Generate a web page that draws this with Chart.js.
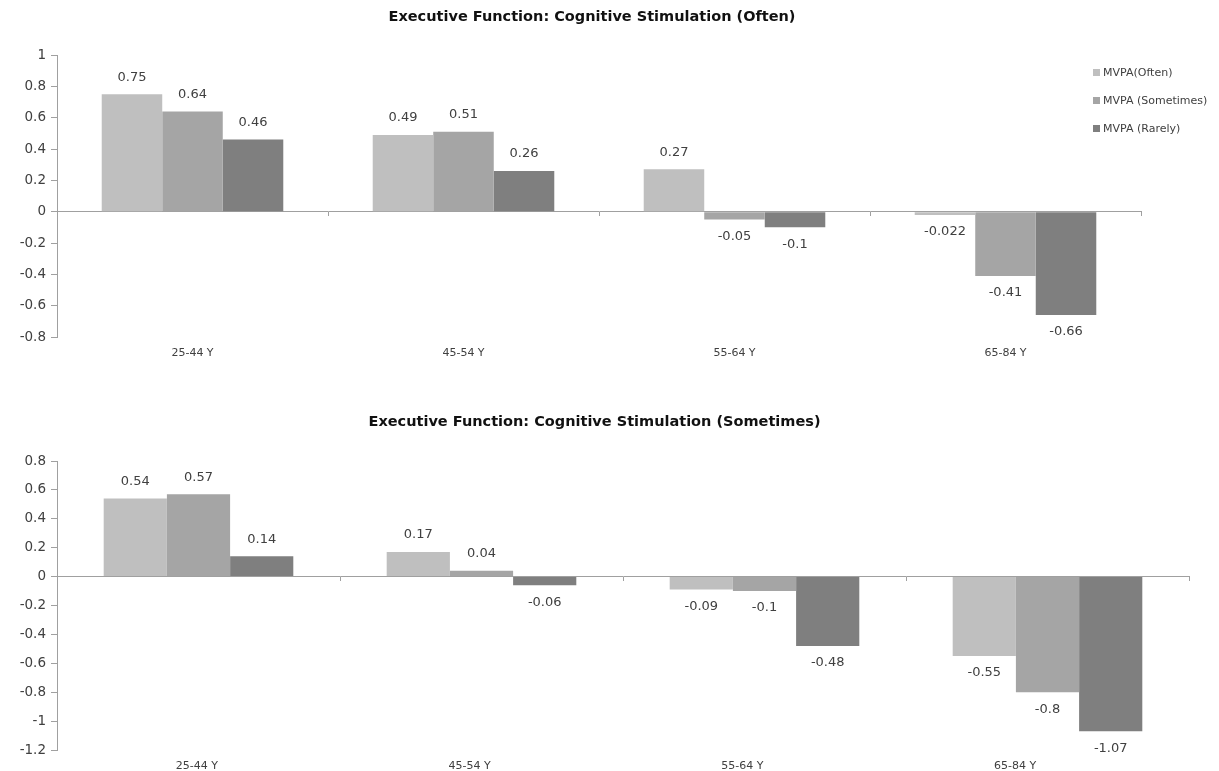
<!DOCTYPE html>
<html>
<head>
<meta charset="utf-8">
<title>Executive Function: Cognitive Stimulation</title>
<script src="https://cdn.jsdelivr.net/npm/chart.js@4/dist/chart.umd.min.js"></script>
<style>
  html, body { margin: 0; padding: 0; background: #fff; }
  body { width: 1219px; height: 771px; position: relative; overflow: hidden; }
  .panel { position: absolute; left: 0; width: 1219px; }
  #legend { position: absolute; left: 1093px; top: 58px; font: 11px "DejaVu Sans", sans-serif; color: #404040; }
  #legend .item { height: 28px; display: flex; align-items: center; white-space: nowrap; }
  #legend .box { display: inline-block; width: 7px; height: 7px; margin-right: 3px; }
</style>
</head>
<body>
<div class="panel" style="top:0;height:385px"><canvas id="often" width="1219" height="385"></canvas></div>
<div class="panel" style="top:390px;height:381px"><canvas id="sometimes" width="1219" height="381"></canvas></div>
<div id="legend"></div>

<script>
// Age groups (categories) and series
const ageGroups = ['25-44 Y', '45-54 Y', '55-64 Y', '65-84 Y'];
const seriesNames = ['MVPA(Often)', 'MVPA (Sometimes)', 'MVPA (Rarely)'];
const seriesColors = ['#BFBFBF', '#A5A5A5', '#7F7F7F'];

// Cognitive stimulation: Often
const oftenMvpaOften = [0.75, 0.49, 0.27, -0.022];
const oftenMvpaSometimes = [0.64, 0.51, -0.05, -0.41];
const oftenMvpaRarely = [0.46, 0.26, -0.1, -0.66];

// Cognitive stimulation: Sometimes
const sometimesMvpaOften = [0.54, 0.17, -0.09, -0.55];
const sometimesMvpaSometimes = [0.57, 0.04, -0.1, -0.8];
const sometimesMvpaRarely = [0.14, -0.06, -0.48, -1.07];

// Value axis ranges
const oftenAxis = { min: -0.8, max: 1, step: 0.2 };
const sometimesAxis = { min: -1.2, max: 0.8, step: 0.2 };

const AXIS_GRAY = '#A0A0A0';
const TEXT = '#404040';

Chart.defaults.font.family = '"DejaVu Sans", sans-serif';
Chart.defaults.color = TEXT;

// Writes each bar's value just beyond its end
const valueLabels = {
  id: 'valueLabels',
  afterDatasetsDraw(chart) {
    const ctx = chart.ctx;
    ctx.save();
    ctx.font = '13px "DejaVu Sans", sans-serif';
    ctx.fillStyle = TEXT;
    ctx.textAlign = 'center';
    ctx.textBaseline = 'middle';
    chart.data.datasets.forEach((ds, di) => {
      chart.getDatasetMeta(di).data.forEach((bar, i) => {
        const v = ds.data[i];
        ctx.fillText(String(v), bar.x, v >= 0 ? bar.y - 17 : bar.y + 17);
      });
    });
    ctx.restore();
  }
};

// Lets the title be centred over a span that starts at a given x
const titleSpan = {
  id: 'titleSpan',
  afterLayout(chart, args, opts) {
    if (chart.titleBlock && opts.left != null) chart.titleBlock.left = opts.left;
  }
};

function makeChart(id, o) {
  const datasets = o.values.map((vals, i) => ({
    label: seriesNames[i],
    data: vals,
    backgroundColor: seriesColors[i],
    borderWidth: 0,
    categoryPercentage: 0.67,
    barPercentage: 1.0
  }));

  const tickFont = { size: 11 };

  const scales = {
    x: {
      type: 'category',
      position: 'bottom',
      offset: true,
      display: !o.labelAxis,
      grid: { display: false },
      border: { display: false },
      ticks: { font: tickFont, color: TEXT, padding: 2, maxRotation: 0, autoSkip: false },
      afterFit: s => { s.height = o.labelAxis ? 0 : o.xHeight; }
    },
    // category axis crossing at zero: the baseline with tick marks between groups
    xZero: {
      type: 'category',
      axis: 'x',
      position: { y: 0 },
      offset: true,
      grid: { offset: true, drawOnChartArea: false, drawTicks: true, tickLength: 4, color: AXIS_GRAY, tickColor: AXIS_GRAY },
      border: { display: true, color: AXIS_GRAY, width: 1 },
      ticks: { display: false }
    },
    y: {
      min: o.axis.min,
      max: o.axis.max,
      grid: { drawOnChartArea: false, drawTicks: true, tickLength: 6, color: AXIS_GRAY, tickColor: AXIS_GRAY },
      border: { display: true, color: AXIS_GRAY, width: 1 },
      ticks: {
        stepSize: o.axis.step,
        autoSkip: false,
        padding: 5,
        font: { size: 13.5 },
        color: TEXT,
        callback: v => String(+Number(v).toFixed(1))
      },
      afterFit: s => { s.width = 57; }
    }
  };

  if (o.labelAxis) {
    // separate label axis for the group names
    scales.xLabels = {
      type: 'linear',
      axis: 'x',
      position: 'bottom',
      offset: false,
      bounds: 'data',
      min: o.labelAxis.min,
      max: o.labelAxis.max,
      grid: { display: false, offset: false },
      border: { display: false },
      afterBuildTicks: s => { s.ticks = ageGroups.map((_, i) => ({ value: i })); },
      ticks: { font: tickFont, color: TEXT, padding: 2, maxRotation: 0, autoSkip: false,
               callback: v => ageGroups[v] },
      afterFit: s => { s.height = o.xHeight; }
    };
  }

  return new Chart(document.getElementById(id), {
    type: 'bar',
    data: { labels: ageGroups, datasets },
    options: {
      responsive: false,
      animation: false,
      devicePixelRatio: 1,
      layout: { padding: o.padding },
      plugins: {
        legend: { display: false },
        tooltip: { enabled: false },
        titleSpan: { left: o.titleLeft },
        title: {
          display: true,
          text: o.title,
          color: '#111',
          font: { family: '"DejaVu Sans", sans-serif', size: 14.5, weight: 'bold' },
          padding: o.titlePadding
        }
      },
      scales
    },
    plugins: [valueLabels, titleSpan]
  });
}

const oftenChart = makeChart('often', {
  title: 'Executive Function: Cognitive Stimulation (Often)',
  values: [oftenMvpaOften, oftenMvpaSometimes, oftenMvpaRarely],
  axis: oftenAxis,
  padding: { left: 0, right: 78, top: 0, bottom: 0 },
  titlePadding: { top: 8.3, bottom: 29.3 },
  titleLeft: 43,
  xHeight: 48
});

makeChart('sometimes', {
  title: 'Executive Function: Cognitive Stimulation (Sometimes)',
  values: [sometimesMvpaOften, sometimesMvpaSometimes, sometimesMvpaRarely],
  axis: sometimesAxis,
  padding: { left: 0, right: 30, top: 0, bottom: 0 },
  titlePadding: { top: 23.3, bottom: 30.3 },
  titleLeft: null,
  xHeight: 21,
  labelAxis: { min: -0.513, max: 3.638 }
});

// Legend for the series, built from the first chart's datasets
const legend = document.getElementById('legend');
oftenChart.data.datasets.forEach(ds => {
  const item = document.createElement('div');
  item.className = 'item';
  const box = document.createElement('span');
  box.className = 'box';
  box.style.background = ds.backgroundColor;
  item.appendChild(box);
  item.appendChild(document.createTextNode(ds.label));
  legend.appendChild(item);
});
</script>
</body>
</html>
